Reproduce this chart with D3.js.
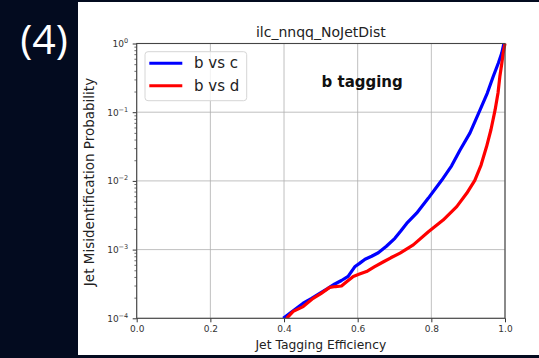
<!DOCTYPE html>
<html>
<head>
<meta charset="utf-8">
<script src="https://cdn.jsdelivr.net/npm/d3@7"></script>
<style>
  html, body { margin: 0; padding: 0; background: #030b1f; }
  svg { display: block; }
  text { font-family: "DejaVu Sans", sans-serif; }
</style>
</head>
<body>
<svg id="chart" width="539" height="358"></svg>
<script>
// b-tagging performance: misidentification probability vs tagging efficiency
const seriesNames = ["b vs c", "b vs d"];
const seriesColors = ["#0000ff", "#ff0000"];

const bvcEff = [0.398, 0.425, 0.452, 0.475, 0.497, 0.518, 0.538, 0.556, 0.574, 0.592,
  0.605, 0.620, 0.638, 0.656, 0.678, 0.701, 0.717, 0.733, 0.760, 0.792,
  0.828, 0.855, 0.878, 0.905, 0.932, 0.952, 0.968, 0.982, 0.991, 0.997];
const bvcMis = [1.0e-4, 1.29e-4, 1.66e-4, 1.95e-4, 2.31e-4, 2.7e-4, 3.16e-4, 3.55e-4, 4.07e-4, 5.62e-4,
  6.3e-4, 7.24e-4, 8.0e-4, 9.0e-4, 1.12e-3, 1.46e-3, 1.86e-3, 2.4e-3, 3.39e-3, 5.62e-3,
  1.02e-2, 1.66e-2, 2.82e-2, 5.0e-2, 0.107, 0.19, 0.33, 0.52, 0.72, 1.0];

const bvdEff = [0.407, 0.425, 0.452, 0.479, 0.500, 0.524, 0.540, 0.556, 0.570, 0.588,
  0.605, 0.624, 0.645, 0.669, 0.690, 0.715, 0.751, 0.792, 0.832, 0.869,
  0.896, 0.918, 0.935, 0.950, 0.962, 0.973, 0.981, 0.986, 0.991, 0.995, 1.0];
const bvdMis = [1.0e-4, 1.26e-4, 1.48e-4, 1.95e-4, 2.29e-4, 2.82e-4, 2.9e-4, 2.95e-4, 3.4e-4, 4.07e-4,
  4.4e-4, 4.79e-4, 5.6e-4, 6.6e-4, 7.6e-4, 8.9e-4, 1.17e-3, 1.82e-3, 2.69e-3, 4.22e-3,
  6.6e-3, 1.02e-2, 1.7e-2, 3.16e-2, 5.6e-2, 0.107, 0.19, 0.33, 0.5, 0.72, 1.0];

const xTicks = [0.0, 0.2, 0.4, 0.6, 0.8, 1.0];
const yDecades = [1e-4, 1e-3, 1e-2, 1e-1, 1e0];
const yExponents = ["−4", "−3", "−2", "−1", "0"];

(function draw() {
  const svg = d3.select("#chart");

  // white figure panel
  svg.append("rect").attr("x", 78).attr("y", 2).attr("width", 461).attr("height", 353).attr("fill", "#ffffff");

  // panel label
  svg.append("text").attr("x", 44).attr("y", 54).attr("text-anchor", "middle")
    .attr("fill", "#ffffff").style("font-size", "41px").style("font-family", "'Open Sans', 'DejaVu Sans', sans-serif")
    .text("(4)");

  const pl = 136.7, pr = 505, pt = 43.5, pb = 318.3;
  const x = d3.scaleLinear().domain([0, 1]).range([pl, pr]);
  const y = d3.scaleLog().domain([1e-4, 1]).range([pb, pt]);

  // grid
  const grid = svg.append("g").attr("stroke", "#b0b0b0").attr("stroke-width", 0.8);
  grid.selectAll(".gx").data(xTicks).join("line")
    .attr("x1", d => x(d)).attr("x2", d => x(d)).attr("y1", pt).attr("y2", pb);
  grid.selectAll(".gy").data(yDecades).join("line")
    .attr("x1", pl).attr("x2", pr).attr("y1", d => y(d)).attr("y2", d => y(d));

  // curves
  const line = d3.line().x(d => x(d[0])).y(d => y(d[1]));
  const series = [d3.zip(bvcEff, bvcMis), d3.zip(bvdEff, bvdMis)];
  svg.append("defs").append("clipPath").attr("id", "plotclip")
    .append("rect").attr("x", pl).attr("y", pt - 2).attr("width", pr - pl + 2).attr("height", pb - pt + 2);
  const curves = svg.append("g").attr("clip-path", "url(#plotclip)");
  series.forEach((s, i) => {
    curves.append("path").datum(s).attr("d", line).attr("fill", "none")
      .attr("stroke", seriesColors[i]).attr("stroke-width", 3.2).attr("stroke-linejoin", "round");
  });

  // axes
  const xAxis = d3.axisBottom(x).tickValues(xTicks).tickSize(4).tickPadding(3).tickFormat(d3.format(".1f"));
  const gx = svg.append("g").attr("transform", `translate(0,${pb})`).call(xAxis);
  gx.select(".domain").remove();
  gx.selectAll("line").attr("stroke", "#333");
  gx.selectAll("text").attr("fill", "#333").style("font-size", "9px").style("font-family", "'DejaVu Sans', sans-serif");

  const minors = [];
  for (let e = -4; e < 0; e++) for (let m = 2; m <= 9; m++) minors.push(m * Math.pow(10, e));
  const gyMinor = svg.append("g").attr("transform", `translate(${pl},0)`)
    .call(d3.axisLeft(y).tickValues(minors).tickSize(2.3).tickFormat(""));
  gyMinor.select(".domain").remove();
  gyMinor.selectAll("line").attr("stroke", "#333").attr("stroke-width", 0.7);

  const gy = svg.append("g").attr("transform", `translate(${pl},0)`)
    .call(d3.axisLeft(y).tickValues(yDecades).tickSize(4).tickPadding(3).tickFormat(""));
  gy.select(".domain").remove();
  gy.selectAll("line").attr("stroke", "#333");
  gy.selectAll(".tick").each(function(d, i) {
    const t = d3.select(this).append("text").attr("x", -8.5).attr("y", 3)
      .attr("text-anchor", "end").attr("fill", "#333").style("font-size", "9px");
    t.append("tspan").text("10");
    t.append("tspan").attr("dy", -4).style("font-size", "6.5px").text(yExponents[i]);
  });

  // frame
  svg.append("rect").attr("x", pl).attr("y", pt).attr("width", pr - pl).attr("height", pb - pt)
    .attr("fill", "none").attr("stroke", "#444").attr("stroke-width", 1.1);

  // labels
  svg.append("text").attr("x", (pl + pr) / 2).attr("y", 36.5).attr("text-anchor", "middle")
    .attr("fill", "#222").style("font-size", "14px").text("ilc_nnqq_NoJetDist");
  svg.append("text").attr("x", (pl + pr) / 2).attr("y", 349).attr("text-anchor", "middle")
    .attr("fill", "#222").style("font-size", "12.3px").text("Jet Tagging Efficiency");
  svg.append("text").attr("transform", "translate(94,182) rotate(-90)").attr("text-anchor", "middle")
    .attr("fill", "#222").style("font-size", "13.5px").text("Jet Misidentification Probability");
  svg.append("text").attr("x", 321.5).attr("y", 86.5)
    .attr("fill", "#111").style("font-size", "15px").style("font-weight", "bold").text("b tagging");

  // legend
  const lg = svg.append("g");
  lg.append("rect").attr("x", 145).attr("y", 51.7).attr("width", 101.7).attr("height", 49)
    .attr("rx", 3).attr("fill", "#ffffff").attr("fill-opacity", 0.8).attr("stroke", "#d6d6d6").attr("stroke-width", 1);
  seriesNames.forEach((name, i) => {
    const ly = 63.3 + i * 22.4;
    lg.append("line").attr("x1", 149.3).attr("x2", 182.3).attr("y1", ly).attr("y2", ly)
      .attr("stroke", seriesColors[i]).attr("stroke-width", 3);
    lg.append("text").attr("x", 194).attr("y", ly + 5).attr("fill", "#222").style("font-size", "15px").text(name);
  });
})();
</script>
</body>
</html>
